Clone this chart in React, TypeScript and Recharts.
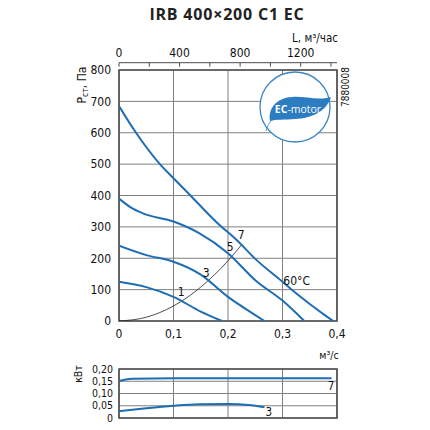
import React from 'react';
import { LineChart, Line, XAxis, YAxis, CartesianGrid, ReferenceArea, ReferenceDot } from 'recharts';

const FONT = '"DejaVu Sans Condensed", "Liberation Sans Narrow", Roboto, sans-serif';
const BLUE = '#1f6db3';
const FRAME = '#4d4d4d';
const GRID = '#808080';

const flowTicks = [0, 0.1, 0.2, 0.3, 0.4];
const pressureTicks = [0, 100, 200, 300, 400, 500, 600, 700, 800];
const hourTicks = [0, 200, 400, 600, 800, 1000, 1200, 1400];
const hourLabels = [0, 400, 800, 1200];
const powerTicks = [0, 0.05, 0.1, 0.15, 0.2];

const curve7 = [
  { q: 0, p: 685 }, { q: 0.03, p: 603 }, { q: 0.075, p: 500 }, { q: 0.1, p: 455 },
  { q: 0.135, p: 393 }, { q: 0.185, p: 305 }, { q: 0.215, p: 260 }, { q: 0.25, p: 198 },
  { q: 0.3, p: 125 }, { q: 0.316, p: 101 }, { q: 0.35, p: 54 }, { q: 0.375, p: 22 }, { q: 0.393, p: 0 },
];
const curve5 = [
  { q: 0, p: 390 }, { q: 0.02, p: 364 }, { q: 0.044, p: 343 }, { q: 0.1, p: 317 },
  { q: 0.147, p: 280 }, { q: 0.2, p: 216 }, { q: 0.25, p: 130 }, { q: 0.3, p: 65 }, { q: 0.34, p: 0 },
];
const curve3 = [
  { q: 0, p: 240 }, { q: 0.05, p: 210 }, { q: 0.1, p: 189 }, { q: 0.15, p: 148 },
  { q: 0.2, p: 77 }, { q: 0.25, p: 19 }, { q: 0.267, p: 0 },
];
const curve1 = [
  { q: 0, p: 125 }, { q: 0.05, p: 108 }, { q: 0.1, p: 77 }, { q: 0.15, p: 30 }, { q: 0.189, p: 0 },
];
const systemCurve = [
  { q: 0, p: 0 }, { q: 0.05, p: 12 }, { q: 0.1, p: 48 }, { q: 0.15, p: 108 }, { q: 0.2, p: 192 }, { q: 0.225, p: 243 },
];
const curveLabels = [
  { q: 0.114, p: 92, t: '1' },
  { q: 0.16, p: 154, t: '3' },
  { q: 0.204, p: 237, t: '5' },
  { q: 0.224, p: 274, t: '7' },
  { q: 0.326, p: 128, t: '60°C' },
];

const power7 = [
  { q: 0, p: 0.151 }, { q: 0.01, p: 0.156 }, { q: 0.025, p: 0.16 }, { q: 0.1, p: 0.162 },
  { q: 0.2, p: 0.162 }, { q: 0.3, p: 0.162 }, { q: 0.39, p: 0.162 },
];
const power3 = [
  { q: 0, p: 0.028 }, { q: 0.05, p: 0.04 }, { q: 0.1, p: 0.05 }, { q: 0.147, p: 0.056 },
  { q: 0.2, p: 0.057 }, { q: 0.238, p: 0.053 }, { q: 0.267, p: 0.044 },
];
const powerLabels = [
  { q: 0.389, p: 0.131, t: '7' },
  { q: 0.275, p: 0.026, t: '3' },
];

const hourData = hourTicks.map((L) => ({ L }));

const fmtFlow = (v: number) => (v === 0 ? '0' : String(v).replace('.', ','));
const fmtPower = (v: number) => (v === 0 ? '0' : v.toFixed(2).replace('.', ','));

const tickStyle = { fontSize: 12, fontFamily: FONT, fill: '#111' };
const smallTickStyle = { fontSize: 10.5, fontFamily: FONT, fill: '#111' };

const TopTick = (props: any) => {
  const { x, y, payload } = props;
  const v = payload.value;
  return (
    <g>
      <line x1={x} x2={x} y1={y} y2={y + 4} stroke={FRAME} strokeWidth={1} />
      {hourLabels.includes(v) && (
        <text x={x} y={y - 6} textAnchor="middle" fontSize={12} fontFamily={FONT} fill="#111">
          {v}
        </text>
      )}
    </g>
  );
};

const lbl = (t: string, size = 12) => ({ value: t, position: 'center' as const, fill: '#111', fontSize: size, fontFamily: FONT });

export default function App() {
  return (
    <div style={{ position: 'absolute', left: 0, top: 0, width: 430, height: 430, background: '#fff', overflow: 'hidden' }}>
      {/* top airflow axis (m3/h) */}
      <div style={{ position: 'absolute', left: 0, top: 0 }}>
        <LineChart width={430} height={70} data={hourData} margin={{ top: 12, right: 93, bottom: 0, left: 119 }}>
          <XAxis
            dataKey="L"
            type="number"
            orientation="top"
            domain={[0, 1440]}
            ticks={hourTicks}
            height={50.7}
            tickSize={0}
            tickMargin={0}
            axisLine={{ stroke: FRAME, strokeWidth: 1 }}
            tick={<TopTick />}
            interval={0}
          />
        </LineChart>
      </div>

      {/* main pressure chart */}
      <div style={{ position: 'absolute', left: 0, top: 0 }}>
        <LineChart width={430} height={345} margin={{ top: 70, right: 93, bottom: 0, left: 79 }}>
          <CartesianGrid stroke={GRID} strokeWidth={1} />
          <XAxis
            dataKey="q"
            type="number"
            domain={[0, 0.4]}
            ticks={flowTicks}
            tickFormatter={fmtFlow}
            height={24}
            tickSize={0}
            tickMargin={8}
            axisLine={false}
            tick={tickStyle}
            interval={0}
            allowDataOverflow
          />
          <YAxis
            type="number"
            domain={[0, 800]}
            ticks={pressureTicks}
            width={40}
            tickSize={0}
            tickMargin={8}
            axisLine={false}
            tick={tickStyle}
            interval={0}
            allowDataOverflow
          />
          <ReferenceArea x1={0} x2={0.4} y1={0} y2={800} fill="none" stroke={FRAME} strokeWidth={1.6} />
          <Line data={systemCurve} dataKey="p" type="monotone" stroke="#222" strokeWidth={0.8} dot={false} isAnimationActive={false} />
          <Line data={curve1} dataKey="p" type="monotone" stroke={BLUE} strokeWidth={2} dot={false} isAnimationActive={false} />
          <Line data={curve3} dataKey="p" type="monotone" stroke={BLUE} strokeWidth={2} dot={false} isAnimationActive={false} />
          <Line data={curve5} dataKey="p" type="monotone" stroke={BLUE} strokeWidth={2} dot={false} isAnimationActive={false} />
          <Line data={curve7} dataKey="p" type="monotone" stroke={BLUE} strokeWidth={2} dot={false} isAnimationActive={false} />
          {curveLabels.map((c) => (
            <ReferenceDot key={c.t} x={c.q} y={c.p} r={1} fill="none" stroke="none" label={lbl(c.t)} />
          ))}
        </LineChart>
      </div>

      {/* power chart */}
      <div style={{ position: 'absolute', left: 0, top: 350 }}>
        <LineChart width={430} height={80} margin={{ top: 19, right: 93, bottom: 12, left: 79 }}>
          <CartesianGrid stroke={GRID} strokeWidth={1} />
          <XAxis dataKey="q" type="number" domain={[0, 0.4]} ticks={flowTicks} hide allowDataOverflow />
          <YAxis
            type="number"
            domain={[0, 0.2]}
            ticks={powerTicks}
            tickFormatter={fmtPower}
            width={40}
            tickSize={0}
            tickMargin={6}
            axisLine={false}
            tick={smallTickStyle}
            interval={0}
            allowDataOverflow
          />
          <ReferenceArea x1={0} x2={0.4} y1={0} y2={0.2} fill="none" stroke={FRAME} strokeWidth={1.6} />
          <Line data={power7} dataKey="p" type="monotone" stroke={BLUE} strokeWidth={2} dot={false} isAnimationActive={false} />
          <Line data={power3} dataKey="p" type="monotone" stroke={BLUE} strokeWidth={2} dot={false} isAnimationActive={false} />
          {powerLabels.map((c) => (
            <ReferenceDot key={c.t} x={c.q} y={c.p} r={1} fill="none" stroke="none" label={lbl(c.t, 11.5)} />
          ))}
        </LineChart>
      </div>

      {/* titles, axis names, logo */}
      <svg width={430} height={430} style={{ position: 'absolute', left: 0, top: 0, pointerEvents: 'none' }}>
        <text x={227} y={20} textAnchor="middle" fontFamily='"Open Sans", sans-serif' fontWeight={700} fontSize={16} letterSpacing={0.8} fill="#222">
          IRB 400×200 C1 EC
        </text>
        <text x={338} y={42} textAnchor="end" fontFamily={FONT} fontSize={11.5} fill="#111">
          L, м³/час
        </text>
        <text x={86} y={85} textAnchor="middle" transform="rotate(-90 86 85)" fontFamily={FONT} fontSize={12} fill="#111">
          P<tspan fontSize={8.5} dy={2}>ст</tspan><tspan dy={-2} fontSize={12}>, Па</tspan>
        </text>
        <text x={329} y={359} textAnchor="middle" fontFamily={FONT} fontSize={10.5} fill="#111">
          м³/с
        </text>
        <text x={82} y={374} textAnchor="middle" transform="rotate(-90 82 374)" fontFamily={FONT} fontSize={10.5} fill="#111">
          кВт
        </text>
        <text x={349} y={87} textAnchor="middle" transform="rotate(-90 349 87)" fontFamily={FONT} fontSize={10} fill="#111">
          7880008
        </text>
        {/* EC-motor logo */}
        <circle cx={295} cy={107} r={35} fill="#fff" stroke="#3a86c8" strokeWidth={1.3} />
        <path
          d="M 270,121 C 268,110 275,98 292,97 C 305,96 318,101 331,97 C 326,112 312,118 295,119 C 285,120 276,119 270,121 Z"
          fill="#2b7cc0"
        />
        <path d="M 272,119 Q 268,124 266,131" fill="none" stroke="#3a86c8" strokeWidth={0.8} />
        <text x={298} y={113} textAnchor="middle" fontFamily='"Open Sans", sans-serif' fontSize={10.5} fill="#fff">
          <tspan fontWeight={700}>EC</tspan>-motor
        </text>
      </svg>
    </div>
  );
}
